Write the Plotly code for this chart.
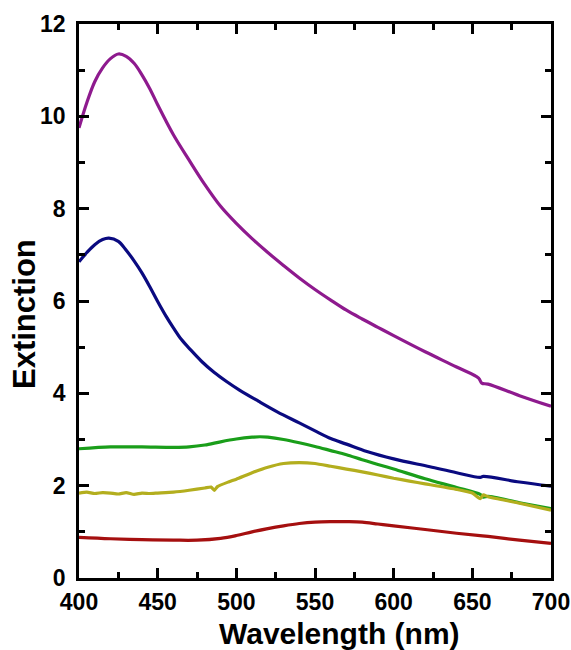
import plotly.graph_objects as go

# Wavelength (nm) and extinction values
wl_purple = [400, 405, 410, 415, 420, 425, 430, 435, 440, 445, 450, 460, 470, 480, 490, 500, 510, 520, 530, 540, 550, 560, 570, 580, 590, 600, 620, 640, 654, 656, 660, 680, 700]
ext_purple = [9.75, 10.3, 10.75, 11.05, 11.25, 11.35, 11.3, 11.15, 10.9, 10.6, 10.25, 9.6, 9.05, 8.52, 8.05, 7.68, 7.35, 7.05, 6.77, 6.5, 6.25, 6.02, 5.8, 5.61, 5.43, 5.25, 4.9, 4.57, 4.33, 4.22, 4.2, 3.95, 3.72]

wl_blue = [400, 405, 410, 415, 419, 425, 430, 435, 440, 445, 450, 455, 460, 465, 471, 478, 486, 494, 502, 514, 526, 540, 551, 560, 570, 583, 600, 623, 640, 655, 657, 680, 700]
ext_blue = [6.85, 7.05, 7.22, 7.33, 7.36, 7.29, 7.1, 6.87, 6.61, 6.31, 5.99, 5.69, 5.42, 5.17, 4.94, 4.69, 4.45, 4.25, 4.07, 3.83, 3.6, 3.36, 3.17, 3.02, 2.9, 2.74, 2.58, 2.41, 2.28, 2.18, 2.2, 2.08, 1.99]

wl_green = [400, 420, 440, 460, 470, 480, 490, 500, 510, 515, 520, 530, 540, 550, 560, 570, 580, 590, 600, 620, 640, 655, 657, 660, 680, 700]
ext_green = [2.8, 2.84, 2.84, 2.83, 2.84, 2.88, 2.95, 3.01, 3.05, 3.06, 3.05, 3.0, 2.93, 2.85, 2.76, 2.67, 2.56, 2.46, 2.36, 2.15, 1.96, 1.81, 1.75, 1.77, 1.63, 1.5]

wl_olive = [400, 405, 410, 415, 420, 425, 430, 435, 440, 445, 450, 460, 470, 480, 484, 486, 488, 495, 500, 510, 520, 530, 540, 550, 560, 570, 580, 590, 600, 610, 620, 640, 650, 655, 657, 660, 680, 700]
ext_olive = [1.84, 1.86, 1.83, 1.85, 1.84, 1.82, 1.85, 1.81, 1.84, 1.83, 1.84, 1.86, 1.9, 1.95, 1.97, 1.9, 1.98, 2.08, 2.14, 2.28, 2.4, 2.48, 2.5, 2.48, 2.42, 2.36, 2.3, 2.23, 2.16, 2.1, 2.04, 1.92, 1.84, 1.72, 1.8, 1.76, 1.62, 1.47]

wl_red = [400, 420, 440, 460, 475, 490, 500, 510, 520, 530, 540, 550, 560, 570, 580, 590, 600, 620, 640, 660, 680, 700]
ext_red = [0.88, 0.85, 0.83, 0.82, 0.82, 0.86, 0.92, 1.0, 1.07, 1.13, 1.18, 1.21, 1.22, 1.22, 1.21, 1.17, 1.13, 1.05, 0.97, 0.9, 0.82, 0.75]

x_ticks = [400, 450, 500, 550, 600, 650, 700]
y_ticks = [0, 2, 4, 6, 8, 10, 12]

series = [
    (wl_purple, ext_purple, "#8E1A8E", 1.0),
    (wl_blue, ext_blue, "#0A0A80", 1.0),
    (wl_green, ext_green, "#1A9E1A", 0.8),
    (wl_olive, ext_olive, "#B3AE1E", 0.5),
    (wl_red, ext_red, "#A50F0F", 1.0),
]

fig = go.Figure()
for xs, ys, c, sm in series:
    fig.add_trace(go.Scatter(x=xs, y=ys, mode="lines",
                             line=dict(color=c, width=3.2, shape="spline", smoothing=sm),
                             showlegend=False))

font_family = "Arial, Liberation Sans, sans-serif"
axis_common = dict(
    showline=True, linecolor="black", linewidth=2.5, mirror="ticks",
    ticks="inside", ticklen=10, tickwidth=2.5, tickcolor="black",
    showgrid=False, zeroline=False, automargin=False,
    tickfont=dict(family=font_family, size=23, color="black", weight="bold"),
)

fig.update_xaxes(range=[400, 700], tickvals=x_ticks,
                 minor=dict(ticks="inside", ticklen=6, tickwidth=2.5, tickcolor="black", dtick=25, tick0=400),
                 ticklabelstandoff=2,
                 **axis_common)
fig.update_yaxes(range=[0, 12], tickvals=y_ticks,
                 minor=dict(ticks="inside", ticklen=6, tickwidth=2.5, tickcolor="black", dtick=1, tick0=0),
                 ticklabelstandoff=6,
                 **axis_common)

fig.add_annotation(text="Wavelength (nm)", xref="paper", yref="paper",
                   x=0.551, y=-0.0993, xanchor="center", yanchor="middle", showarrow=False,
                   font=dict(family=font_family, size=30, color="black", weight="bold"))
fig.add_annotation(text="Extinction", xref="paper", yref="paper",
                   x=-0.1165, y=0.4765, xanchor="center", yanchor="middle", showarrow=False,
                   textangle=-90,
                   font=dict(family=font_family, size=31, color="black", weight="bold"))

fig.update_layout(
    width=571, height=650,
    margin=dict(l=79, r=20, t=24, b=72),
    plot_bgcolor="white", paper_bgcolor="white",
)

fig.write_html("out.html")
